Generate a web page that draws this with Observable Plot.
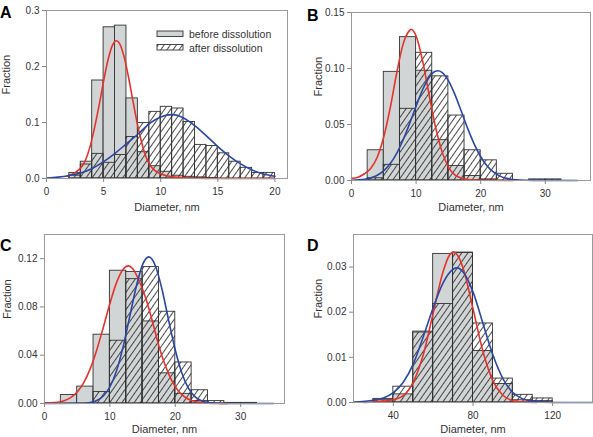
<!DOCTYPE html>
<html><head><meta charset="utf-8">
<script src="https://cdn.jsdelivr.net/npm/d3@7"></script>
<script src="https://cdn.jsdelivr.net/npm/@observablehq/plot@0.6"></script>
<style>
body{margin:0;background:#fff;}
#wrap{position:relative;width:593px;height:437px;font-family:"Liberation Sans",Arial,sans-serif;overflow:hidden;}
.panel{position:absolute;}
.letter{position:absolute;font-weight:bold;font-size:16px;line-height:16px;color:#000;}
</style></head><body>
<svg width="0" height="0" style="position:absolute"><defs>
<pattern id="hatch" width="5" height="5" patternUnits="userSpaceOnUse" patternTransform="rotate(35)">
<line x1="2.5" y1="-1" x2="2.5" y2="6" stroke="#2a2a2a" stroke-width="0.85"/></pattern></defs></svg>
<div id="wrap"></div>
<script>
// ---------- Panel A ----------
const binsA = [2,3,4,5,6,7,8,9,10,11,12,13,14,15,16,17,18,19];
const binWA = 1;
const beforeA = [0.01,0.03,0.175,0.27,0.273,0.143,0.047,0.022,0.012,0.005,0.003,0.002,0.001,0,0,0,0,0];
const afterA  = [0.005,0.025,0.044,0.028,0.042,0.074,0.099,0.119,0.128,0.125,0.101,0.06,0.058,0.045,0.03,0.019,0.01,0.01];
const redAx = [1.8,2.2,2.6,3,3.4,3.8,4.2,4.6,5,5.4,5.8,6.12,6.4,6.8,7.2,7.6,8,8.4,8.8,9.2,9.8,10.5,11.5,13,15,20];
const redAy = [0.004,0.007,0.012,0.019,0.032,0.056,0.09,0.13,0.174,0.213,0.239,0.246,0.241,0.217,0.179,0.135,0.093,0.059,0.034,0.02,0.01,0.005,0.002,0.0005,0,0];
const blueAx = [0,1,2,3,4,5,6,7,8,9,10,11,12,13,14,15,16,17,18,19,20];
const blueAy = [0.001,0.0025,0.0055,0.01,0.018,0.03,0.045,0.062,0.079,0.098,0.11,0.114,0.108,0.094,0.076,0.057,0.04,0.026,0.015,0.008,0.004];
const xTicksA = [0,5,10,15,20];
const yTicksA = [0,0.1,0.2,0.3];

// ---------- Panel B ----------
const binsB = [2.5,5,7.5,10,12.5,15,17.5,20,22.5,25,27.5,30];
const binWB = 2.5;
const beforeB = [0.027,0.097,0.128,0.098,0.036,0.013,0.004,0.001,0,0,0,0];
const afterB  = [0.002,0.014,0.064,0.114,0.093,0.058,0.027,0.018,0.006,0,0.001,0.001];
const redBx = [0,1,2,3,4,5,6,7,8,9,9.2,10,11,12,13,14,15,16,17,18,20,25];
const redBy = [0.002,0.003,0.006,0.011,0.021,0.039,0.065,0.096,0.122,0.134,0.135,0.129,0.107,0.077,0.048,0.026,0.012,0.005,0.002,0.0008,0.0002,0];
const blueBx = [0,2,4,5,6,7,8,9,10,11,12,13,13.35,14,15,16,17,18,19,20,21,22,23,24,26,28,35];
const blueBy = [0.0002,0.0011,0.0047,0.0088,0.0151,0.0243,0.0364,0.0509,0.0664,0.081,0.092,0.0976,0.098,0.0966,0.0892,0.0769,0.0618,0.0463,0.0325,0.0212,0.0129,0.0074,0.0039,0.0019,0.0004,0.0001,0];
const xTicksB = [0,10,20,30];
const yTicksB = [0,0.05,0.10,0.15];

// ---------- Panel C ----------
const binsC = [2.5,5,7.5,10,12.5,15,17.5,20,22.5,25,27.5,30];
const binWC = 2.5;
const beforeC = [0.007,0.014,0.057,0.11,0.109,0.068,0.025,0.008,0.002,0,0,0];
const afterC  = [0,0,0.0095,0.052,0.103,0.113,0.076,0.034,0.011,0.002,0.0005,0.0005];
const redCx = [0,2,3,4,5,6,7,8,9,10,11,12,12.8,13.5,14.5,15.5,16.5,17.5,18.5,19.5,20.5,21.5,22.5,24,26,28];
const redCy = [0.0005,0.001,0.0023,0.0048,0.0095,0.0173,0.0289,0.0446,0.0632,0.0828,0.0999,0.111,0.114,0.1117,0.1013,0.087,0.068,0.0475,0.031,0.0185,0.0102,0.0052,0.0025,0.0007,0.0001,0];
const blueCx = [0,6,7,8,9,10,11,12,13,14,15,15.95,17,18,19,20,21,22,23,24,25,27,35];
const blueCy = [0,0.0002,0.0009,0.0025,0.0062,0.0137,0.0269,0.0465,0.0711,0.0961,0.115,0.1215,0.1135,0.0938,0.0685,0.0443,0.0253,0.0128,0.0057,0.0022,0.0008,0.0001,0];
const xTicksC = [0,10,20,30];
const yTicksC = [0,0.04,0.08,0.12];

// ---------- Panel D ----------
const binsD = [30,40,50,60,70,80,90,100,110];
const binWD = 10;
const beforeD = [0.0008,0.0018,0.0157,0.0329,0.0331,0.0114,0.0041,0.0005,0.0003];
const afterD  = [0.0005,0.0035,0.0155,0.0218,0.0332,0.0175,0.0053,0.0017,0.0009];
const redDx = [25,30,35,40,45,50,55,60,65,68,70.3,73,75,80,85,90,95,100,105,112];
const redDy = [0,0.0001,0.0003,0.0006,0.0015,0.0045,0.0105,0.0198,0.029,0.0325,0.0333,0.032,0.0298,0.0208,0.0113,0.0048,0.0016,0.0004,0.0001,0];
const blueDx = [20,30,35,40,45,50,55,60,65,70,72,75,80,85,90,95,100,105,110,120,140];
const blueDy = [0.0001,0.0005,0.001,0.0022,0.0045,0.0085,0.0145,0.021,0.0265,0.0295,0.0298,0.0289,0.0245,0.0175,0.0105,0.0053,0.0022,0.0008,0.0003,0,0];
const xTicksD = [40,80,120];
const yTicksD = [0,0.01,0.02,0.03];

const legendLabels = ["before dissolution","after dissolution"];
const xTitle = "Diameter, nm";
const yTitle = "Fraction";

const GRAY = "#d2d5d5", RED = "#e5322b", BLUE = "#2b47a3", EDGE = "#333";
const wrap = document.getElementById("wrap");

function zipXY(xs, ys){ return xs.map((x,i)=>({x, y: ys[i]})); }

function panel(o){
  const bars = o.bins.map((b,i)=>({x1:b, x2:b+o.binW, before:o.before[i], after:o.after[i]}));
  const chart = Plot.plot({
    width:o.width, height:o.height,
    marginLeft:o.mL, marginRight:o.mR, marginTop:o.mT, marginBottom:o.mB,
    x:{domain:o.xDomain, axis:null},
    y:{domain:o.yDomain, axis:null},
    style:{fontFamily:'"Liberation Sans",Arial,sans-serif', fontSize:"10px", color:"#333", background:"transparent", overflow:"visible"},
    marks:[
      Plot.rect(bars.filter(d=>d.before>0), {x1:"x1", x2:"x2", y1:0, y2:"before", fill:GRAY, stroke:EDGE, strokeWidth:0.9}),
      Plot.rect(bars.filter(d=>d.after>0), {x1:"x1", x2:"x2", y1:0, y2:"after", fill:"url(#hatch)", stroke:EDGE, strokeWidth:0.9}),
      Plot.line(zipXY(o.redX,o.redY), {x:"x", y:"y", stroke:RED, strokeWidth:1.6, curve:"monotone-x"}),
      Plot.line(zipXY(o.blueX,o.blueY), {x:"x", y:"y", stroke:BLUE, strokeWidth:1.6, curve:"monotone-x"}),
      Plot.frame({stroke:"#9a9a9a", strokeWidth:1}),
      Plot.axisX({ticks:o.xTicks, tickSize:4, tickPadding:5, stroke:"#888", fill:"#333", label:null, fontSize:10}),
      Plot.axisY({ticks:o.yTicks, tickFormat:d3.format(o.yFmt), tickSize:4, tickPadding:3, stroke:"#888", fill:"#333", label:null, fontSize:10}),
      Plot.text([xTitle], {frameAnchor:"bottom", dy:o.xTitleDy, fontSize:11, fill:"#333"}),
      Plot.text([yTitle], {frameAnchor:"left", rotate:-90, dx:o.yTitleDx, fontSize:11, fill:"#333"})
    ]
  });
  chart.classList.add("panel");
  chart.style.left = o.left+"px"; chart.style.top = o.top+"px";
  wrap.appendChild(chart);
  const L = document.createElement("div");
  L.className = "letter"; L.textContent = o.letter;
  L.style.left = o.lx+"px"; L.style.top = o.ly+"px";
  wrap.appendChild(L);
}

panel({letter:"A", lx:0, ly:5, left:0, top:0, width:296, height:215, mL:46, mR:9, mT:10, mB:37,
  xDomain:[0,21.1], yDomain:[0,0.3], xTicks:xTicksA, yTicks:yTicksA, yFmt:".1f",
  bins:binsA, binW:binWA, before:beforeA, after:afterA, redX:redAx, redY:redAy, blueX:blueAx, blueY:blueAy,
  xTitleDy:32, yTitleDx:-40});
panel({letter:"B", lx:307, ly:8, left:296, top:0, width:297, height:215, mL:55, mR:3, mT:12, mB:35,
  xDomain:[0,37], yDomain:[0,0.15], xTicks:xTicksB, yTicks:yTicksB, yFmt:".2f",
  bins:binsB, binW:binWB, before:beforeB, after:afterB, redX:redBx, redY:redBy, blueX:blueBx, blueY:blueBy,
  xTitleDy:30, yTitleDx:-33});
panel({letter:"C", lx:0, ly:238, left:0, top:215, width:296, height:222, mL:44, mR:12, mT:19, mB:34,
  xDomain:[0,36.7], yDomain:[0,0.14], xTicks:xTicksC, yTicks:yTicksC, yFmt:".2f",
  bins:binsC, binW:binWC, before:beforeC, after:afterC, redX:redCx, redY:redCy, blueX:blueCx, blueY:blueCy,
  xTitleDy:29, yTitleDx:-37});
panel({letter:"D", lx:307, ly:238, left:296, top:215, width:297, height:222, mL:57, mR:1, mT:19, mB:35,
  xDomain:[20,140], yDomain:[0,0.0372], xTicks:xTicksD, yTicks:yTicksD, yFmt:".2f",
  bins:binsD, binW:binWD, before:beforeD, after:afterD, redX:redDx, redY:redDy, blueX:blueDx, blueY:blueDy,
  xTitleDy:30, yTitleDx:-35});

// legend for panel A
const ns = "http://www.w3.org/2000/svg";
const lg = document.createElementNS(ns,"svg");
lg.setAttribute("width",140); lg.setAttribute("height",30);
lg.style.position="absolute"; lg.style.left="150px"; lg.style.top="26px";
legendLabels.forEach((t,i)=>{
  const r = document.createElementNS(ns,"rect");
  r.setAttribute("x",7); r.setAttribute("y",5+i*13.5); r.setAttribute("width",26); r.setAttribute("height",5.5);
  r.setAttribute("fill", i===0?GRAY:"url(#hatch)"); r.setAttribute("stroke",EDGE); r.setAttribute("stroke-width",0.9);
  lg.appendChild(r);
  const tx = document.createElementNS(ns,"text");
  tx.setAttribute("x",39); tx.setAttribute("y",11.7+i*13.8);
  tx.setAttribute("font-size","10.5px"); tx.setAttribute("fill","#333");
  tx.setAttribute("font-family",'"Liberation Sans",Arial,sans-serif');
  tx.textContent = t; lg.appendChild(tx);
});
wrap.appendChild(lg);
</script>
</body></html>
